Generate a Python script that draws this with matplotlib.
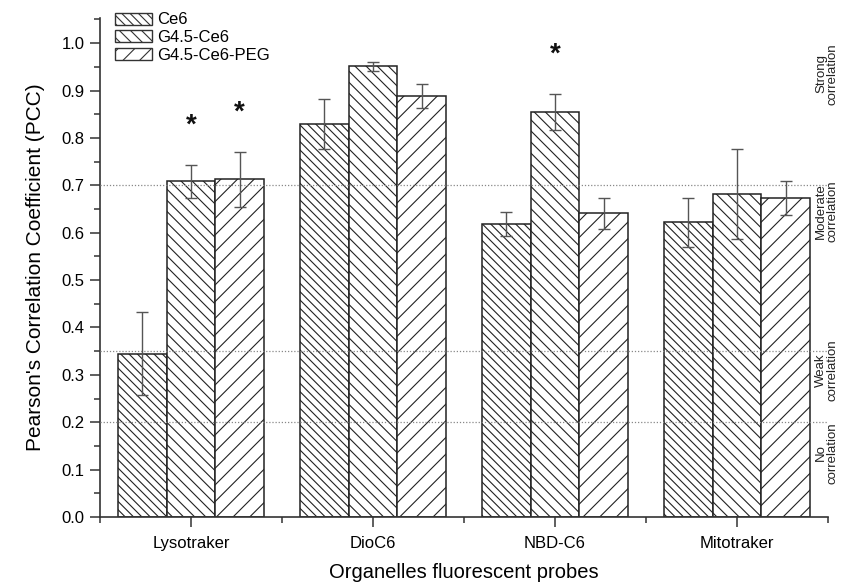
import matplotlib
matplotlib.use("Agg")
import matplotlib.pyplot as plt
import numpy as np
from matplotlib.patches import Patch

plt.rcParams['font.family'] = ['Liberation Sans', 'DejaVu Sans']
plt.rcParams['hatch.linewidth'] = 0.8
plt.rcParams['hatch.color'] = '#3a3a3a'

categories = ["Lysotraker", "DioC6", "NBD-C6", "Mitotraker"]
series = ["Ce6", "G4.5-Ce6", "G4.5-Ce6-PEG"]
values = {
    "Ce6":          [0.345, 0.830, 0.618, 0.622],
    "G4.5-Ce6":     [0.708, 0.951, 0.855, 0.681],
    "G4.5-Ce6-PEG": [0.713, 0.888, 0.641, 0.674],
}
errors = {
    "Ce6":          [0.088, 0.053, 0.025, 0.052],
    "G4.5-Ce6":     [0.035, 0.010, 0.038, 0.095],
    "G4.5-Ce6-PEG": [0.058, 0.025, 0.033, 0.036],
}
hatches = {"Ce6": "\\\\\\\\", "G4.5-Ce6": "\\\\\\", "G4.5-Ce6-PEG": "//"}
# significance markers: (category index, series name, y position)
stars = [(0, "G4.5-Ce6", 0.826), (0, "G4.5-Ce6-PEG", 0.854), (2, "G4.5-Ce6", 0.976)]
ref_lines = [0.2, 0.35, 0.7]
zones = [("No\ncorrelation", 0.135), ("Weak\ncorrelation", 0.31),
         ("Moderate\ncorrelation", 0.645), ("Strong\ncorrelation", 0.935)]

fig = plt.figure(figsize=(8.45, 5.85), dpi=100)
ax = fig.add_axes([100/845, 1-517/585, (828-100)/845, (517-18)/585])

x = np.arange(len(categories))
w = 0.268
offsets = {"Ce6": -w, "G4.5-Ce6": 0.0, "G4.5-Ce6-PEG": w}
for s in series:
    ax.bar(x + offsets[s], values[s], width=w, color='white', edgecolor='#222222',
           hatch=hatches[s], linewidth=1.1, zorder=2)
    ax.errorbar(x + offsets[s], values[s], yerr=errors[s], fmt='none',
                ecolor='#555555', elinewidth=1.0, capsize=4, capthick=1.0, zorder=4)

for yl in ref_lines:
    ax.axhline(yl, color='#888888', linestyle=(0, (1, 1.5)), linewidth=0.9, zorder=3)

for ci, s, ys in stars:
    ax.text(x[ci] + offsets[s], ys, "*", ha='center', va='center', fontsize=20,
            fontweight='bold', color='#111111', zorder=5)

ax.set_xlim(-0.5, 3.5)
ax.set_ylim(0, 1.053)
ax.set_xticks(x)
ax.set_xticklabels(categories, fontsize=12)
ax.set_xticks(np.arange(-0.5, 3.6, 1.0), minor=True)
ax.set_yticks(np.arange(0, 1.01, 0.1))
ax.set_yticklabels([f"{v:.1f}" for v in np.arange(0, 1.01, 0.1)], fontsize=12)
ax.set_yticks(np.arange(0.05, 1.06, 0.1), minor=True)
ax.tick_params(axis='both', which='major', direction='out', length=7, width=1.1, color='#333333')
ax.tick_params(axis='both', which='minor', direction='out', length=4, width=1.1, color='#333333')
ax.tick_params(axis='x', which='major', pad=7)
ax.tick_params(axis='y', which='major', pad=4)
for sp in ['top', 'right']:
    ax.spines[sp].set_visible(False)
for sp in ['left', 'bottom']:
    ax.spines[sp].set_linewidth(1.2)
    ax.spines[sp].set_color('#333333')

ax.set_ylabel("Pearson's Correlation Coefficient (PCC)", fontsize=15, labelpad=12)
ax.set_xlabel("Organelles fluorescent probes", fontsize=14.5, labelpad=8)

for label, yc in zones:
    ax.text(0.9985, yc, label, transform=ax.get_yaxis_transform(), rotation=90,
            ha='center', va='center', fontsize=9.5, linespacing=0.95, color='#222222',
            clip_on=False)

handles = [Patch(facecolor='white', edgecolor='#333333', hatch=hatches[s], label=s)
           for s in series]
fig.legend(handles=handles, loc='upper left', bbox_to_anchor=(113/845, 1-10/585),
           frameon=False, fontsize=12, handlelength=2.2, handleheight=0.72,
           labelspacing=0.15, handletextpad=0.3, borderaxespad=0, borderpad=0.15)

fig.savefig("out.png", dpi=100)
